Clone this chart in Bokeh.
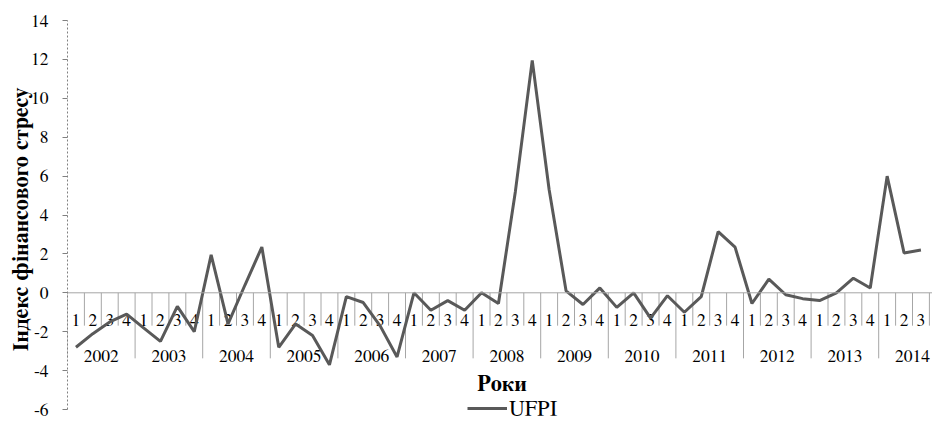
import numpy as np
from bokeh.plotting import figure
from bokeh.models import Range1d, FixedTicker, Label, Legend, LegendItem, Span, PrintfTickFormatter
from bokeh.core.properties import value
from bokeh.embed import file_html
from bokeh.resources import INLINE

# ---- data ----
years = [str(y) for y in range(2002, 2015)]
quarters = ["1", "2", "3", "4"]
ufpi = [
    -2.8, -2.1, -1.5, -1.1,    # 2002
    -1.8, -2.5, -0.7, -2.0,    # 2003
    1.95, -1.6, 0.4, 2.35,     # 2004
    -2.8, -1.6, -2.2, -3.7,    # 2005
    -0.2, -0.5, -1.7, -3.3,    # 2006
    0.0, -0.9, -0.4, -0.9,     # 2007
    0.0, -0.55, 5.2, 11.95,    # 2008
    5.3, 0.1, -0.6, 0.25,      # 2009
    -0.75, 0.0, -1.3, -0.15,   # 2010
    -1.0, -0.2, 3.15, 2.35,    # 2011
    -0.55, 0.7, -0.1, -0.3,    # 2012
    -0.4, 0.0, 0.75, 0.25,     # 2013
    6.0, 2.05, 2.2,            # 2014
]
y_ticks = [-6, -4, -2, 0, 2, 4, 6, 8, 10, 12, 14]
series_name = "UFPI"
x_title = "Роки"
y_title = "Індекс фінансового стресу"

FONT = "FreeSerif"
TXT = "17.5px"
TITLE = "22px"

n_cat = len(years) * len(quarters)
x_all = np.arange(n_cat)
x_data = x_all[:len(ufpi)]

W, H = 932, 418
left, top = 67, 20
px_per_cat = 16.9
x_end = -0.5 + (W - left) / px_per_cat
px_per_unit = 19.45
y_start = y_ticks[-1] - (H - top) / px_per_unit

p = figure(width=W, height=H, output_backend="svg", toolbar_location=None,
           x_range=Range1d(-0.5, x_end), y_range=Range1d(y_start, y_ticks[-1]),
           min_border_left=left, min_border_top=top, min_border_right=0,
           min_border_bottom=0)
p.outline_line_color = None
p.xgrid.visible = False
p.ygrid.visible = False
p.xaxis.visible = False

ax = p.yaxis[0]
ax.ticker = FixedTicker(ticks=y_ticks)
ax.formatter = PrintfTickFormatter(format="%d")
ax.bounds = (y_ticks[0], y_ticks[-1])
ax.axis_line_color = "#808080"
ax.axis_line_dash = "2 2"
ax.major_tick_line_color = "#808080"
ax.major_tick_out = 5
ax.major_tick_in = 0
ax.minor_tick_line_color = None
ax.major_label_text_font = FONT
ax.major_label_text_font_size = TXT
ax.major_label_text_color = "black"
ax.major_label_standoff = 14
ax.axis_label = y_title
ax.axis_label_text_font = FONT
ax.axis_label_text_font_size = TITLE
ax.axis_label_text_font_style = "bold"
ax.axis_label_text_color = "black"
ax.axis_label_standoff = -4

# zero line (category axis line)
p.add_layout(Span(location=0, dimension="width", line_color="#A6A6A6", line_width=1))

# category separators
bounds = np.arange(n_cat + 1) - 0.5
depth = np.where(np.arange(n_cat + 1) % len(quarters) == 0, -3.37, -1.69)
p.segment(x0=bounds, y0=np.zeros(len(bounds)), x1=bounds, y1=depth,
          line_color="#A6A6A6", line_width=1)

# quarter and year labels
p.text(x=x_all, y=np.full(n_cat, -1.42), text=quarters * len(years),
       text_font=value(FONT), text_font_size=TXT, text_align="center",
       text_baseline="alphabetic", text_color="black")
yx = np.arange(len(years)) * len(quarters) + (len(quarters) - 1) / 2
p.text(x=yx, y=np.full(len(years), -3.23), text=years,
       text_font=value(FONT), text_font_size=TXT, text_align="center",
       text_baseline="alphabetic", text_color="black")

r = p.line(x_data, ufpi, line_width=3, line_color="#595959")

p.add_layout(Label(x=25.2, y=-4.68, text=x_title, text_font=FONT,
                   text_font_size=TITLE, text_font_style="bold",
                   text_align="center", text_baseline="alphabetic",
                   text_color="black"))

leg = Legend(items=[LegendItem(label=series_name, renderers=[r])],
             location=(400, -2), orientation="horizontal",
             glyph_width=40, glyph_height=20, label_standoff=2,
             label_text_font=FONT, label_text_font_size=TITLE,
             label_text_color="black", padding=0, margin=0, spacing=0,
             border_line_color=None, background_fill_alpha=0)
p.add_layout(leg)

open("out.html", "w").write(file_html(p, INLINE))
